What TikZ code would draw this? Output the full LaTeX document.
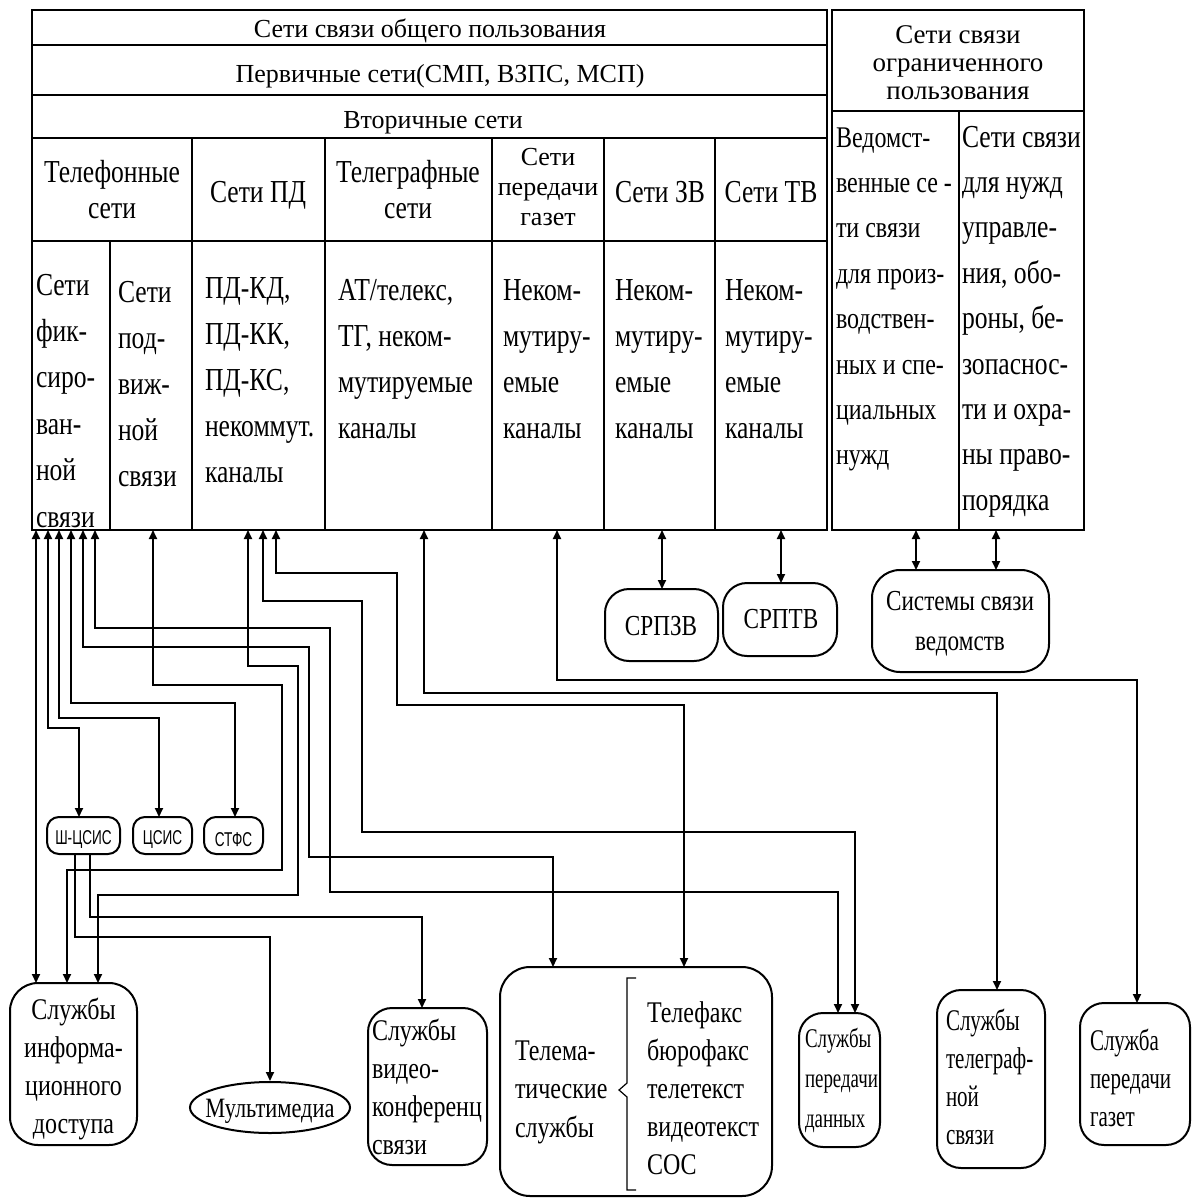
\documentclass[tikz,border=0pt]{standalone}
\usepackage{fontspec}
\setmainfont{Liberation Serif}[FakeStretch=0.8]
\newfontfamily\widefont{Liberation Serif}
\newfontfamily\narrowfont{Liberation Serif}[FakeStretch=0.7]
\newfontfamily\ssfont{Liberation Sans}[FakeStretch=0.68]
\usetikzlibrary{arrows.meta,shapes.geometric}
\newcommand\fstrut{\rule{0pt}{0.8em}}
\begin{document}
\begin{tikzpicture}[x=1pt,y=-1pt,
  >={Triangle[length=9pt,width=8pt]},
  tline/.style={line width=2pt},
  conn/.style={line width=1.8pt,->},
  dconn/.style={line width=1.8pt,<->},
  celltxt/.style={inner sep=0pt,outer sep=0pt,anchor=north west,align=left,font=\fontsize{32}{46}\selectfont},
  hdr/.style={inner sep=0pt,outer sep=0pt,align=center,font=\fontsize{32}{36}\selectfont},
  toptxt/.style={inner sep=0pt,outer sep=0pt,font=\widefont\fontsize{26}{28}\selectfont},
  boxtxt/.style={inner sep=0pt,outer sep=0pt,anchor=north west,align=left,font=\fontsize{30}{38}\selectfont},
  rbox/.style={draw,line width=2pt,rounded corners=24pt,inner sep=0pt,outer sep=0pt},
  sbox/.style={rbox,rounded corners=12pt,minimum height=37pt},
  smalltxt/.style={inner sep=0pt,outer sep=0pt,font=\ssfont\fontsize{20}{22}\selectfont},
  midtxt/.style={inner sep=0pt,outer sep=0pt,font=\fontsize{29}{40}\selectfont}
]
\fill[white] (0,0) rectangle (1203,1200);
\useasboundingbox (0,0) rectangle (1203,1200);

% ---------- main table ----------
\draw[tline] (32,10) rectangle (827,530);
\draw[tline] (32,45) -- (827,45);
\draw[tline] (32,95) -- (827,95);
\draw[tline] (32,138) -- (827,138);
\draw[tline] (32,241) -- (827,241);
\foreach \x in {192,325,492,604,715} \draw[tline] (\x,138) -- (\x,530);
\draw[tline] (110,241) -- (110,530);
% ---------- right table ----------
\draw[tline] (832,10) rectangle (1084,530);
\draw[tline] (832,111) -- (1084,111);
\draw[tline] (959,111) -- (959,530);

% ---------- table texts ----------
\node[toptxt,anchor=base] (t1) at (430,37) {Сети связи общего пользования};
\node[toptxt,anchor=base] (t2) at (440,82) {Первичные сети(СМП, ВЗПС, МСП)};
\node[toptxt,anchor=base] (t3) at (433,128) {Вторичные сети};
\node[toptxt,align=center,anchor=north,font=\widefont\fontsize{27}{28}\selectfont] (rh) at (958,21.4) {\fstrut Сети связи\\ограниченного\\пользования};

\node[hdr,anchor=north] (h1) at (112,156.4) {\fstrut Телефонные\\сети};
\node[hdr,anchor=base] (h2) at (258,202) {Сети ПД};
\node[hdr,anchor=north] (h3) at (408,156.4) {\fstrut Телеграфные\\сети};
\node[hdr,anchor=north,font=\widefont\fontsize{26}{30}\selectfont] (h4) at (548,144.2) {\fstrut Сети\\передачи\\газет};
\node[hdr,anchor=base] (h5) at (660,202) {Сети ЗВ};
\node[hdr,anchor=base] (h6) at (771,202) {Сети ТВ};

\node[celltxt,font=\fontsize{32}{46.4}\selectfont] (c1) at (36,269.4) {\fstrut Сети\\фик-\\сиро-\\ван-\\ной\\связи};
\node[celltxt] (c2) at (118,276.4) {\fstrut Сети\\под-\\виж-\\ной\\связи};
\node[celltxt] (c3) at (205,272.4) {\fstrut ПД-КД,\\ПД-КК,\\ПД-КС,\\некоммут.\\каналы};
\node[celltxt] (c4) at (338,274.4) {\fstrut АТ/телекс,\\ТГ, неком-\\мутируемые\\каналы};
\node[celltxt] (c5) at (503,274.4) {\fstrut Неком-\\мутиру-\\емые\\каналы};
\node[celltxt] (c6) at (615,274.4) {\fstrut Неком-\\мутиру-\\емые\\каналы};
\node[celltxt] (c7) at (725,274.4) {\fstrut Неком-\\мутиру-\\емые\\каналы};
\node[celltxt,font=\fontsize{30}{45.4}\selectfont] (r1) at (836,123) {\fstrut Ведомст-\\венные се -\\ти связи\\для произ-\\водствен-\\ных и спе-\\циальных\\нужд};
\node[celltxt,font=\fontsize{32}{45.4}\selectfont] (r2) at (962,121.4) {\fstrut Сети связи\\для нужд\\управле-\\ния, обо-\\роны, бе-\\зопаснос-\\ти и охра-\\ны право-\\порядка};

% ---------- boxes ----------
\node[sbox,minimum width=73pt] (sh) at (83.5,835.5) {};
\node[sbox,minimum width=59pt] (csis) at (162.5,835.5) {};
\node[sbox,minimum width=59pt] (stfs) at (233.5,835.5) {};
\node[smalltxt] (shT) at (83.5,839.5) {Ш-ЦСИС};
\node[smalltxt] (csisT) at (162.5,839.5) {ЦСИС};
\node[smalltxt] (stfsT) at (233.5,839.5) {СТФС};

\node[rbox,minimum width=113pt,minimum height=72pt] (srpzv) at (661.5,625) {};
\node[rbox,minimum width=114pt,minimum height=73pt] (srptv) at (780,619.5) {};
\node[rbox,minimum width=177pt,minimum height=102pt,rounded corners=28pt] (sv) at (960.5,621) {};
\node[midtxt,anchor=base] (srpzvT) at (661,635) {СРПЗВ};
\node[midtxt,anchor=base] (srptvT) at (781,628) {СРПТВ};
\node[midtxt,align=center,anchor=north] (svT) at (960,586.8) {\fstrut Системы связи\\ведомств};

\node[rbox,minimum width=127pt,minimum height=162pt,rounded corners=28pt] (inf) at (73.5,1064) {};
\node[draw,line width=2pt,ellipse,minimum width=160pt,minimum height=51pt,inner sep=0pt] (mm) at (270,1107.5) {};
\node[rbox,minimum width=119pt,minimum height=157pt] (vk) at (427.5,1086.5) {};
\node[rbox,minimum width=272pt,minimum height=229pt,rounded corners=30pt] (tel) at (636,1081.5) {};
\node[rbox,minimum width=81pt,minimum height=134pt] (pd) at (839.5,1080) {};
\node[rbox,minimum width=108pt,minimum height=178pt] (tg) at (991,1079) {};
\node[rbox,minimum width=110pt,minimum height=142pt] (gaz) at (1135,1074) {};

\node[boxtxt,align=center,anchor=north] (infT) at (73.5,995) {\fstrut Службы\\информа-\\ционного\\доступа};
\node[midtxt,anchor=base,font=\fontsize{28}{38}\selectfont] (mmT) at (270,1117) {Мультимедиа};
\node[boxtxt] (vkT) at (372,1016) {\fstrut Службы\\видео-\\конференц\\связи};
\node[boxtxt,font=\fontsize{30}{38.5}\selectfont] (telL) at (515,1036) {\fstrut Телема-\\тические\\службы};
\node[boxtxt] (telR) at (647,998) {\fstrut Телефакс\\бюрофакс\\телетекст\\видеотекст\\СОС};
\node[boxtxt,font=\narrowfont\fontsize{27}{40}\selectfont] (pdT) at (805,1025.4) {\fstrut Службы\\передачи\\данных};
\node[boxtxt,font=\narrowfont\fontsize{30}{38}\selectfont] (tgT) at (946,1006) {\fstrut Службы\\телеграф-\\ной\\связи};
\node[boxtxt,font=\narrowfont\fontsize{30}{38}\selectfont] (gazT) at (1090,1026) {\fstrut Служба\\передачи\\газет};

% brace
\draw[line width=1.2pt] (636,978) -- (627,978) -- (627,1083) -- (619,1090) -- (627,1097) -- (627,1190) -- (636,1190);

% ---------- table bottom points ----------
\coordinate (tbA) at (36,530);
\coordinate (tbB) at (48,530);
\coordinate (tbC) at (59,530);
\coordinate (tbD) at (71,530);
\coordinate (tbE) at (83,530);
\coordinate (tbF) at (95,530);
\coordinate (tbG) at (153,530);
\coordinate (tbH) at (248,530);
\coordinate (tbI) at (263,530);
\coordinate (tbJ) at (276,530);
\coordinate (tbK) at (424,530);
\coordinate (tbL) at (557,530);
\coordinate (tbM) at (662,530);
\coordinate (tbN) at (781,530);
\coordinate (tbO) at (916,530);
\coordinate (tbP) at (996,530);

% ---------- connectors ----------
\draw[dconn] (tbA) -- (tbA |- inf.north);
\draw[dconn] (tbB) |- (79,728) -- (79,728 |- sh.north);
\draw[dconn] (tbC) |- (159,718) -- (159,718 |- csis.north);
\draw[dconn] (tbD) |- (235,703) -- (235,703 |- stfs.north);
\draw[dconn] (tbE) |- (309,647) |- (553,857) -- (553,857 |- tel.north);
\draw[dconn] (tbF) |- (330,628) |- (838,892) -- (838,892 |- pd.north);
\draw[dconn] (tbG) |- (282,685) |- (67,870) -- (67,870 |- inf.north);
\draw[dconn] (tbH) |- (298,666) |- (98,895) -- (98,895 |- inf.north);
\draw[dconn] (tbI) |- (362,601) |- (855,832) -- (855,832 |- pd.north);
\draw[dconn] (tbJ) |- (397,573) |- (684,705) -- (684,705 |- tel.north);
\draw[dconn] (tbK) |- (997,693) -- (997,693 |- tg.north);
\draw[dconn] (tbL) |- (1137,680) -- (1137,680 |- gaz.north);
\draw[dconn] (tbM) -- (tbM |- srpzv.north);
\draw[dconn] (tbN) -- (tbN |- srptv.north);
\draw[dconn] (tbO) -- (tbO |- sv.north);
\draw[dconn] (tbP) -- (tbP |- sv.north);
\draw[conn] (sh.south -| 75,0) |- (270,937) -- (270,937 |- mm.north);
\draw[conn] (sh.south -| 90,0) |- (422,917) -- (422,917 |- vk.north);
\end{tikzpicture}
\end{document}
